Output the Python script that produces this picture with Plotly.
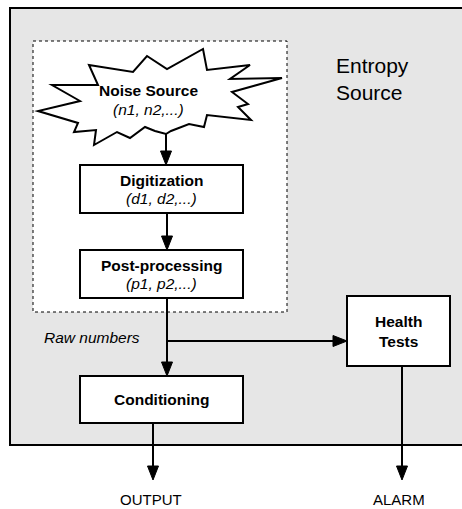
import plotly.graph_objects as go

W, H = 462, 509
FONT = "Liberation Sans, Arial, sans-serif"

# Process blocks: label, sublabel, x0, y0, x1, y1
block_names = ["Digitization", "Post-processing", "Conditioning", "Health<br>Tests"]
block_subs = ["(d1, d2,...)", "(p1, p2,...)", "", ""]
block_x0 = [80, 80, 80, 347]
block_y0 = [165, 250, 376, 296]
block_x1 = [243, 243, 243, 450]
block_y1 = [213, 298, 423, 366]

# Starburst (noise source) outline
burst_x = [89, 133, 147, 167, 203, 207, 250, 230, 282, 232, 248, 238, 251, 207, 204, 189,
           171, 166, 155, 145, 130, 117, 94, 96, 74, 78, 38, 80, 52, 98]
burst_y = [65, 72, 56, 69, 49, 70, 65, 79, 78, 92, 104, 107, 120, 115, 127, 124,
           131, 134, 131, 127, 138, 132, 145, 130, 132, 123, 111, 101, 85, 85]

# Arrows: (x0, y0, x1, y1)
arrows = [
    (166, 133, 166, 165),
    (167, 213, 167, 250),
    (167, 298, 167, 376),
    (167, 341, 347, 341),
    (153, 423, 153, 480),
    (402, 366, 402, 480),
]

fig = go.Figure()
shapes = []

# Outer entropy source region (right side runs off the page; paper-x so it is not clipped)
shapes.append(dict(type="rect", xref="paper", x0=10 / W, y0=8, x1=1.1, y1=445,
                   fillcolor="#e6e6e6", line=dict(width=0), layer="below"))
shapes.append(dict(type="path", xref="paper",
                   path=f"M 1.1,8 L {10 / W},8 L {10 / W},445 L 1.1,445",
                   line=dict(color="black", width=2), layer="below"))
# Dotted noise-source region
shapes.append(dict(type="rect", x0=33, y0=41, x1=287, y1=312,
                   fillcolor="white", line=dict(color="black", width=1, dash="dot"), layer="below"))

path = "M " + " L ".join(f"{x},{y}" for x, y in zip(burst_x, burst_y)) + " Z"
shapes.append(dict(type="path", path=path, fillcolor="white",
                   line=dict(color="black", width=2)))

AL, AW = 14, 5.5
for (x0, y0, x1, y1) in arrows:
    if x0 == x1:
        shapes.append(dict(type="line", x0=x0, y0=y0, x1=x1, y1=y1 - AL + 1,
                           line=dict(color="black", width=2)))
        p = f"M {x1-AW},{y1-AL} L {x1+AW},{y1-AL} L {x1},{y1} Z"
    else:
        shapes.append(dict(type="line", x0=x0, y0=y0, x1=x1 - AL + 1, y1=y1,
                           line=dict(color="black", width=2)))
        p = f"M {x1-AL},{y1-AW} L {x1-AL},{y1+AW} L {x1},{y1} Z"
    shapes.append(dict(type="path", path=p, fillcolor="black", line=dict(color="black", width=1)))

for x0, y0, x1, y1 in zip(block_x0, block_y0, block_x1, block_y1):
    shapes.append(dict(type="rect", x0=x0, y0=y0, x1=x1, y1=y1, fillcolor="white",
                       line=dict(color="black", width=2)))

annotations = []
def txt(x, y, s, size=15.5, xanchor="center"):
    annotations.append(dict(x=x, y=y, text=s, showarrow=False, xanchor=xanchor, yanchor="middle",
                            font=dict(family=FONT, size=size, color="black"),
                            align="left" if xanchor == "left" else "center"))

for name, sub, x0, y0, x1, y1 in zip(block_names, block_subs, block_x0, block_y0, block_x1, block_y1):
    cx = (x0 + x1) / 2
    cy = (y0 + y1) / 2
    if sub:
        txt(cx, cy - 9, f"<b>{name}</b>")
        txt(cx, cy + 9, f"<i>{sub}</i>")
    else:
        txt(cx, cy, f"<b>{name}</b>")

txt(148, 90, "<b>Noise Source</b>")
txt(148, 109, "<i>(n1, n2,...)</i>")
txt(42, 337, "<i>Raw numbers</i>", xanchor="left")
txt(334, 79, "Entropy<br>Source", size=21, xanchor="left")
txt(151, 499, "OUTPUT", size=15)
txt(399, 499, "ALARM", size=15)

fig.update_layout(
    width=W, height=H, margin=dict(l=0, r=0, t=0, b=0),
    paper_bgcolor="white", plot_bgcolor="white",
    xaxis=dict(range=[0, W], visible=False, fixedrange=True),
    yaxis=dict(range=[H, 0], visible=False, fixedrange=True),
    shapes=shapes, annotations=annotations, showlegend=False,
)
fig.write_html(
    "out.html",
    config={"displayModeBar": False},
    post_script="document.body.style.margin='0';document.body.style.overflow='hidden';",
)
